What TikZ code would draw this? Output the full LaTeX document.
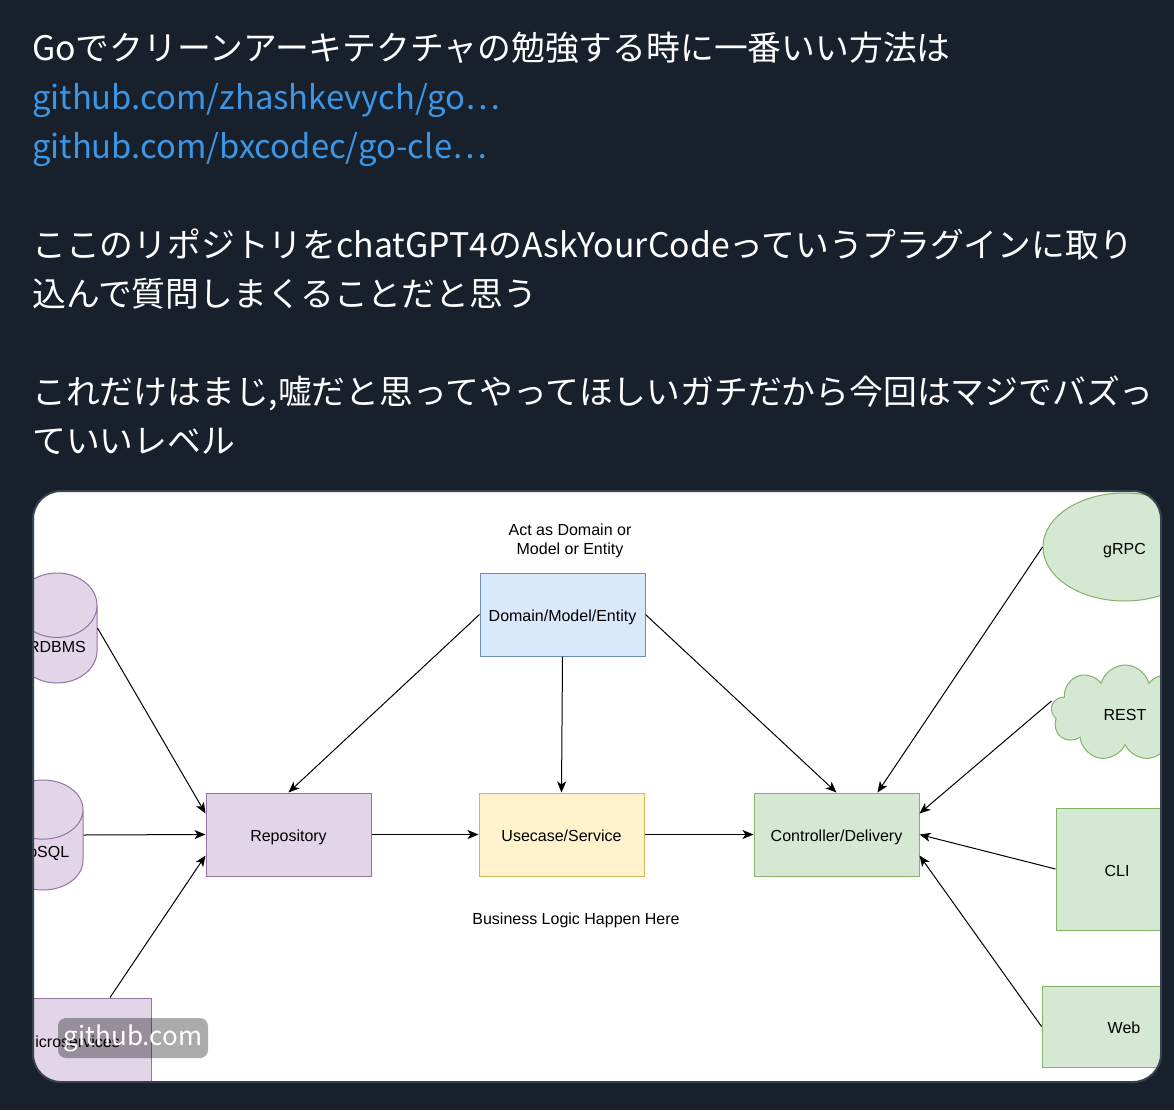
\documentclass[tikz,border=0pt]{standalone}
\usepackage{fontspec}
\setmainfont{Liberation Sans}
\newfontfamily\jpfont{Noto Sans CJK JP}
\usetikzlibrary{shapes.geometric,shapes.symbols,arrows.meta}
\definecolor{tweetbg}{HTML}{17202B}
\definecolor{linkblue}{HTML}{3C96E6}
\definecolor{cardline}{HTML}{38444D}
\definecolor{purplefill}{HTML}{E1D5E7}
\definecolor{purpleline}{HTML}{9673A6}
\definecolor{yellowfill}{HTML}{FFF2CC}
\definecolor{yellowline}{HTML}{D6B656}
\definecolor{greenfill}{HTML}{D5E8D4}
\definecolor{greenline}{HTML}{82B366}
\definecolor{bluefill}{HTML}{DAE8FC}
\definecolor{blueline}{HTML}{6C8EBF}
\tikzstyle{line} = [draw, line width=1pt, -{Stealth[length=11pt,width=9pt,inset=3pt]}]
\tikzstyle{block} = [draw, rectangle, text centered, line width=1pt, minimum width=165pt, minimum height=83pt, text height=14pt, text depth=0pt, font=\fontsize{16}{19}\selectfont]
\tikzstyle{dbase} = [draw=purpleline, fill=purplefill, cylinder, shape border rotate=90, aspect=1, line width=1pt, minimum width=80pt, minimum height=110pt, text height=4pt, text depth=0pt, anchor=shape center, font=\fontsize{16}{19}\selectfont]
\tikzstyle{note} = [align=center, font=\fontsize{16}{19}\selectfont]
\tikzstyle{tweet} = [anchor=base west, inner sep=0pt, text=white, font=\jpfont\fontsize{33.8}{40}\selectfont]

\begin{document}
\begin{tikzpicture}[x=1pt, y=-1pt]
    \path[use as bounding box, fill=tweetbg] (0,0) rectangle (1174,1110);
    % tweet text
    \node[tweet] (lineA) at (32,61) {Goでクリーンアーキテクチャの勉強する時に一番いい方法は};
    \node[tweet, text=linkblue, font=\jpfont\fontsize{32.8}{40}\selectfont] (linkA) at (32,110) {github.com/zhashkevych/go…};
    \node[tweet, text=linkblue, font=\jpfont\fontsize{32.8}{40}\selectfont] (linkB) at (32,159) {github.com/bxcodec/go-cle…};
    \node[tweet] (lineB) at (32,257) {ここのリポジトリをchatGPT4のAskYourCodeっていうプラグインに取り};
    \node[tweet] (lineC) at (32,306) {込んで質問しまくることだと思う};
    \node[tweet] (lineD) at (32,404) {これだけはまじ,嘘だと思ってやってほしいガチだから今回はマジでバズっ};
    \node[tweet] (lineE) at (32,453) {ていいレベル};
    % card
    \fill[white, rounded corners=28pt] (33,491) rectangle (1161,1082);
    \begin{scope}
        \clip[rounded corners=28pt] (33,491) rectangle (1161,1082);
        \node[block, fill=bluefill, draw=blueline] (domain) at (562.5,614.5) {Domain/Model/Entity};
        \node[note] (actas) at (570,541) {Act as Domain or\\Model or Entity};
        \node[block, fill=purplefill, draw=purpleline] (repo) at (288.5,834.5) {Repository};
        \node[block, fill=yellowfill, draw=yellowline] (usecase) at (561.5,834.5) {Usecase/Service};
        \node[block, fill=greenfill, draw=greenline] (ctrl) at (836.5,834.5) {Controller/Delivery};
        \node[note] (bizlogic) at (576,920) {Business Logic Happen Here};
        \node[dbase] (rdbms) at (57,628) {RDBMS};
        \node[dbase] (nosql) at (43,835) {NoSQL};
        \node[block, fill=purplefill, draw=purpleline, minimum width=160pt, minimum height=84pt] (micro) at (71,1040) {Microservices};
        \node[ellipse, draw=greenline, fill=greenfill, line width=1pt, minimum width=163pt, minimum height=108pt, text height=14pt, text depth=0pt, font=\fontsize{16}{19}\selectfont] (grpc) at (1124.5,547) {gRPC};
        \node[cloud, cloud puffs=9, aspect=1.6, draw=greenline, fill=greenfill, line width=1pt, minimum width=148pt, minimum height=96pt, text height=14pt, text depth=0pt, font=\fontsize{16}{19}\selectfont] (rest) at (1125,713) {REST};
        \node[block, fill=greenfill, draw=greenline, minimum width=122pt, minimum height=122pt] (cli) at (1117,869) {CLI};
        \node[block, fill=greenfill, draw=greenline, minimum width=164pt, minimum height=81pt] (web) at (1124,1026.5) {Web};
        \path[line] (rdbms.east |- rdbms.shape center) -- ([yshift=21pt]repo.west);
        \path[line] (nosql.east |- nosql.shape center) -- (repo.west);
        \path[line] ([xshift=39pt]micro.north) -- ([yshift=-21pt]repo.west);
        \path[line] (domain.west) -- (repo.north);
        \path[line] (domain.south) -- (usecase.north);
        \path[line] (domain.east) -- (ctrl.north);
        \path[line] (repo.east) -- (usecase.west);
        \path[line] (usecase.east) -- (ctrl.west);
        \path[line] (grpc.west) -- ([xshift=41pt]ctrl.north);
        \path[line] ([yshift=12pt]rest.west) -- ([yshift=21pt]ctrl.east);
        \path[line] (cli.west) -- (ctrl.east);
        \path[line] (web.west) -- ([yshift=-21pt]ctrl.east);
        \node[fill=black, fill opacity=0.33, text opacity=1, text=white, rounded corners=8pt, minimum width=150pt, minimum height=40pt, font=\jpfont\fontsize{26}{30}\selectfont] (badge) at (133,1038) {github.com};
    \end{scope}
    \draw[cardline, line width=2pt, rounded corners=28pt] (33,491) rectangle (1161,1082);
\end{tikzpicture}
\end{document}
